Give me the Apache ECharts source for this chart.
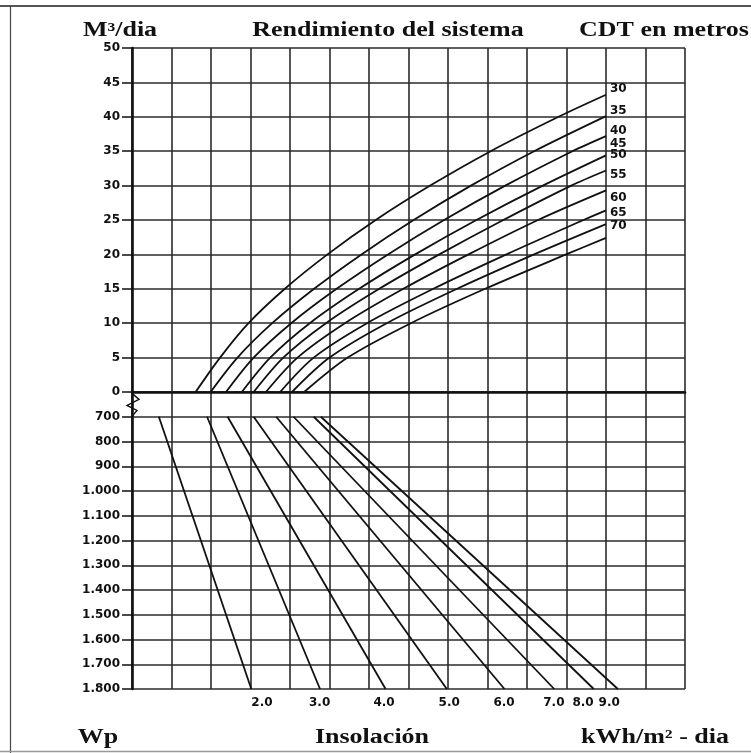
<!DOCTYPE html>
<html>
<head>
<meta charset="utf-8">
<title>Rendimiento del sistema</title>
<script src="https://cdn.jsdelivr.net/npm/echarts@6/dist/echarts.min.js"></script>
<style>
  html, body { margin: 0; padding: 0; background: #fff; }
  #chart { width: 751px; height: 753px; }
</style>
</head>
<body>
<div id="chart"></div>
<script>
// upper panel: flow (M3/dia) vs grid column, one curve per head (CDT en metros)
const cdtLevels = ['30', '35', '40', '45', '50', '55', '60', '65', '70']
const cdt30 = [[1.61, 0], [2.23, 5], [2.95, 10], [3.87, 15], [4.95, 20], [6.17, 25], [7.55, 30], [9.08, 35], [10.80, 40], [12, 43.2]]
const cdt35 = [[1.99, 0], [2.67, 5], [3.55, 10], [4.61, 15], [5.81, 20], [7.13, 25], [8.58, 30], [10.18, 35], [12, 40.1]]
const cdt40 = [[2.38, 0], [3.08, 5], [4.03, 10], [5.18, 15], [6.48, 20], [7.90, 25], [9.45, 30], [11.15, 35], [12, 37.2]]
const cdt45 = [[2.78, 0], [3.50, 5], [4.50, 10], [5.75, 15], [7.17, 20], [8.72, 25], [10.40, 30], [12, 34.4]]
const cdt50 = [[3.08, 0], [3.83, 5], [4.91, 10], [6.26, 15], [7.78, 20], [9.40, 25], [11.12, 30], [12, 32.2]]
const cdt55 = [[3.39, 0], [4.19, 5], [5.39, 10], [6.87, 15], [8.52, 20], [10.28, 25], [12, 29.3]]
const cdt60 = [[3.75, 0], [4.60, 5], [5.95, 10], [7.63, 15], [9.48, 20], [11.43, 25], [12, 26.4]]
const cdt65 = [[4.05, 0], [5.00, 5], [6.45, 10], [8.23, 15], [10.18, 20], [12, 24.4]]
const cdt70 = [[4.36, 0], [5.46, 5], [7.06, 10], [8.94, 15], [10.99, 20], [12, 22.4]]
const cdtCurves = [cdt30, cdt35, cdt40, cdt45, cdt50, cdt55, cdt60, cdt65, cdt70]
const cdtLabelX = 12
const cdtLabelY = [44.0, 40.9, 38.0, 36.1, 34.5, 31.5, 28.2, 26.0, 24.2]

// lower panel: Wp vs grid column, one straight line per insolation value
const insolLabels = ['2.0', '3.0', '4.0', '5.0', '6.0', '7.0', '8.0', '9.0']
const wpStartX = [0.68, 1.90, 2.42, 3.08, 3.65, 4.09, 4.60, 4.78] // at 700 Wp
const wpEndX = [3.02, 4.76, 6.42, 7.97, 9.43, 10.69, 11.69, 12.30] // at 1800 Wp
const insolLabelX = [3.29, 4.75, 6.38, 8.03, 9.42, 10.68, 11.42, 12.08]

const flowTicks = { min: 0, max: 50, interval: 5 }
const wpTicks = { min: 600, max: 1800, interval: 100 }

const ink = '#111'
const gridInk = '#2b2b2b'
const tickFont = { fontFamily: 'DejaVu Sans', fontWeight: 'bold', fontSize: 12, color: '#111' }

function fmtWp(v) {
  if (v === 600) return ''
  if (v < 1000) return String(v)
  return Math.floor(v / 1000) + '.' + String(v % 1000).padStart(3, '0')
}

let myChart = echarts.init(document.getElementById('chart'), null, { renderer: 'canvas' })

let series = []
cdtCurves.forEach(function (pts, i) {
  series.push({
    name: 'CDT ' + cdtLevels[i],
    type: 'line',
    xAxisIndex: 0,
    yAxisIndex: 0,
    data: pts,
    smooth: 0.3,
    symbol: 'none',
    lineStyle: { color: ink, width: 1.8 },
    silent: true
  })
})
series.push({
  name: 'cdt labels',
  type: 'scatter',
  xAxisIndex: 0,
  yAxisIndex: 0,
  symbolSize: 0,
  itemStyle: { opacity: 1 },
  data: cdtLabelY.map(function (y, i) { return { value: [cdtLabelX, y], name: cdtLevels[i] } }),
  label: Object.assign({ show: true, position: 'right', distance: 4, formatter: '{b}' }, tickFont),
  silent: true
})
insolLabels.forEach(function (lab, i) {
  series.push({
    name: 'Insolacion ' + lab,
    type: 'line',
    xAxisIndex: 1,
    yAxisIndex: 1,
    data: [[wpStartX[i], 700], [wpEndX[i], 1800]],
    symbol: 'none',
    lineStyle: { color: ink, width: 1.8 },
    silent: true
  })
})
series.push({
  name: 'insol labels',
  type: 'scatter',
  xAxisIndex: 1,
  yAxisIndex: 1,
  symbolSize: 0,
  itemStyle: { opacity: 1 },
  data: insolLabelX.map(function (x, i) { return { value: [x, 1800], name: insolLabels[i] } }),
  label: Object.assign({ show: true, position: 'bottom', distance: 8, formatter: '{b}' }, tickFont),
  silent: true
})

function xAxisFor(gridIndex, showLine) {
  return {
    type: 'value',
    gridIndex: gridIndex,
    min: 0,
    max: 14,
    interval: 1,
    axisLine: { show: showLine, onZero: false, lineStyle: { color: ink, width: 2.6 } },
    axisTick: { show: false },
    axisLabel: { show: false },
    splitLine: { show: true, lineStyle: { color: gridInk, width: 1.6 } }
  }
}

function serifText(text, x, y) {
  return {
    type: 'text',
    x: x,
    y: y,
    scaleX: 1.3,
    style: {
      text: text,
      font: 'bold 20px "Liberation Serif", "DejaVu Serif", serif',
      fill: '#111',
      align: 'center',
      verticalAlign: 'middle',
      textAlign: 'center',
      textVerticalAlign: 'middle'
    }
  }
}

myChart.setOption({
  animation: false,
  backgroundColor: '#fff',
  grid: [
    { left: 132, top: 48, width: 553, height: 344 },
    { left: 132, top: 392, width: 553, height: 297 }
  ],
  xAxis: [xAxisFor(0, true), xAxisFor(1, false)],
  yAxis: [
    {
      type: 'value',
      gridIndex: 0,
      min: flowTicks.min,
      max: flowTicks.max,
      interval: flowTicks.interval,
      axisLine: { show: true, lineStyle: { color: ink, width: 2.6 } },
      axisTick: { show: true, length: 10, lineStyle: { color: ink, width: 1.5 } },
      axisLabel: Object.assign({ margin: 12 }, tickFont),
      splitLine: { show: true, lineStyle: { color: gridInk, width: 1.6 } }
    },
    {
      type: 'value',
      gridIndex: 1,
      inverse: true,
      min: wpTicks.min,
      max: wpTicks.max,
      interval: wpTicks.interval,
      axisLine: { show: true, lineStyle: { color: ink, width: 2.6 } },
      axisTick: { show: true, length: 10, lineStyle: { color: ink, width: 1.5 } },
      axisLabel: Object.assign({ margin: 12, formatter: fmtWp }, tickFont),
      splitLine: { show: true, lineStyle: { color: gridInk, width: 1.6 } }
    }
  ],
  series: series,
  graphic: [
    // page frame
    { type: 'line', shape: { x1: 0, y1: 6, x2: 751, y2: 6 }, style: { stroke: '#555', lineWidth: 2 } },
    { type: 'line', shape: { x1: 10.5, y1: 6, x2: 10.5, y2: 753 }, style: { stroke: '#444', lineWidth: 1.2 } },
    { type: 'line', shape: { x1: 0, y1: 751.5, x2: 751, y2: 751.5 }, style: { stroke: '#999', lineWidth: 1.5 } },
    serifText('M³/dia', 120, 31),
    serifText('Rendimiento del sistema', 388, 31),
    serifText('CDT en metros', 664, 31),
    serifText('Wp', 98, 738),
    serifText('Insolación', 372, 738),
    serifText('kWh/m² - dia', 655, 738)
  ]
})

// axis break mark between 0 and 700
let c = myChart.convertToPixel({ xAxisIndex: 1, yAxisIndex: 1 }, [0, 650])
myChart.setOption({
  graphic: [{
    id: 'break',
    type: 'polyline',
    shape: { points: [[c[0], c[1] - 11], [c[0] + 7, c[1] - 5], [c[0] - 5, c[1] + 1], [c[0] + 5, c[1] + 6], [c[0], c[1] + 12]] },
    style: { stroke: ink, lineWidth: 1.4, fill: null }
  }]
})
</script>
</body>
</html>
